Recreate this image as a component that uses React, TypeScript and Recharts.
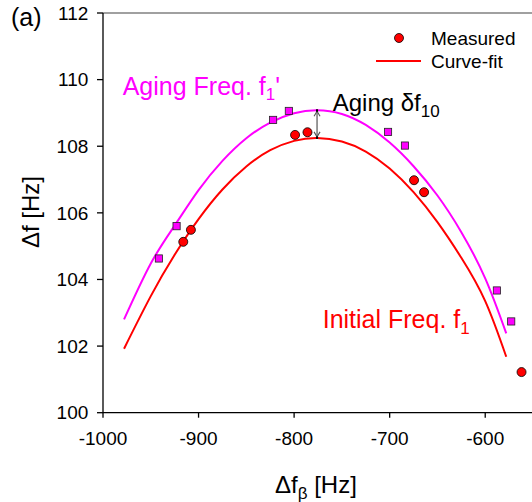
import React from 'react';
import { ComposedChart, Line, Scatter, XAxis, YAxis, ReferenceLine } from 'recharts';

// Measured initial frequency (red circles)
const initialMeasured = [
  { x: -916, y: 105.13 },
  { x: -908, y: 105.49 },
  { x: -799, y: 108.34 },
  { x: -786, y: 108.42 },
  { x: -674.5, y: 106.98 },
  { x: -664, y: 106.62 },
  { x: -562, y: 101.22 },
];

// Measured aging frequency (magenta squares)
const agingMeasured = [
  { x: -941.5, y: 104.63 },
  { x: -923, y: 105.6 },
  { x: -822, y: 108.79 },
  { x: -805.5, y: 109.06 },
  { x: -701.7, y: 108.43 },
  { x: -684, y: 108.02 },
  { x: -587.8, y: 103.67 },
  { x: -572.8, y: 102.74 },
];

// Curve-fit lines
const fitX = [-978, -950, -925, -900, -875, -850, -825, -800, -776, -750, -725, -700, -675, -650, -625, -600, -578];
const initialFitY = [101.92, 103.5, 104.74, 105.81, 106.7, 107.39, 107.88, 108.16, 108.25, 108.14, 107.84, 107.33, 106.62, 105.72, 104.65, 103.35, 101.68];
const agingFitY = [102.8, 104.48, 105.62, 106.68, 107.56, 108.24, 108.71, 108.99, 109.08, 108.97, 108.64, 108.11, 107.4, 106.52, 105.42, 104.03, 102.38];

const xTicks = [-1000, -900, -800, -700, -600];
const yTicks = [100, 102, 104, 106, 108, 110, 112];

const agingArrow = { x: -776, yLow: 108.25, yHigh: 109.08 };

const initialFit = fitX.map((x, i) => ({ x, y: initialFitY[i] }));
const agingFit = fitX.map((x, i) => ({ x, y: agingFitY[i] }));

const FONT = '"Liberation Sans", Arial, Helvetica, sans-serif';
const RED = '#FF0000';
const MAGENTA = '#FF00FF';

const CircleShape = (props: any) => {
  const { cx, cy } = props;
  return <circle cx={cx} cy={cy} r={4.5} fill={RED} stroke="#000" strokeWidth={0.8} />;
};

const SquareShape = (props: any) => {
  const { cx, cy } = props;
  return <rect x={cx - 3.6} y={cy - 3.6} width={7.2} height={7.2} fill={MAGENTA} stroke="#222" strokeWidth={0.8} />;
};

const ArrowShape = (props: any) => {
  const x = props.x1;
  const y1 = Math.min(props.y1, props.y2);
  const y2 = Math.max(props.y1, props.y2);
  return (
    <g>
      <line x1={x} y1={y1} x2={x} y2={y2} stroke="#555" strokeWidth={1.2} />
      <polyline points={`${x - 3},${y1 + 6} ${x},${y1 + 1} ${x + 3},${y1 + 6}`} fill="none" stroke="#555" strokeWidth={1.1} />
      <polyline points={`${x - 3},${y2 - 6} ${x},${y2 - 1} ${x + 3},${y2 - 6}`} fill="none" stroke="#555" strokeWidth={1.1} />
      <line x1={x} y1={y1 - 1} x2={x} y2={y1 + 1.5} stroke="#000" strokeWidth={2} />
      <line x1={x} y1={y2 - 1.5} x2={x} y2={y2 + 1} stroke="#000" strokeWidth={2} />
    </g>
  );
};

export default function App() {
  return (
    <div style={{ position: 'absolute', left: 0, top: 0, width: 532, height: 502, overflow: 'hidden', background: '#fff', fontFamily: FONT }}>
      <ComposedChart width={534} height={502} margin={{ top: 13, right: 1, bottom: 59.3, left: 0 }}>
        <XAxis
          type="number"
          dataKey="x"
          domain={[-1000, -550]}
          ticks={xTicks}
          allowDataOverflow
          tickSize={5}
          tickMargin={14}
          height={30}
          stroke="#000"
          tick={{ fill: '#000', fontSize: 19, fontFamily: FONT }}
          axisLine={{ stroke: '#000', strokeWidth: 1.3 }}
          tickLine={{ stroke: '#000', strokeWidth: 1.3 }}
        />
        <YAxis
          type="number"
          dataKey="y"
          domain={[100, 112]}
          ticks={yTicks}
          allowDataOverflow
          width={103}
          tickSize={6}
          tickMargin={8.7}
          stroke="#000"
          tick={{ fill: '#000', fontSize: 19, fontFamily: FONT }}
          axisLine={{ stroke: '#000', strokeWidth: 1.3 }}
          tickLine={{ stroke: '#000', strokeWidth: 1.3 }}
        />
        <ReferenceLine y={112} stroke="#808080" strokeWidth={1.5} ifOverflow="extendDomain" />
        <Line data={agingFit} dataKey="y" type="natural" stroke={MAGENTA} strokeWidth={2} dot={false} isAnimationActive={false} />
        <Line data={initialFit} dataKey="y" type="natural" stroke={RED} strokeWidth={2} dot={false} isAnimationActive={false} />
        <Scatter data={agingMeasured} dataKey="y" shape={SquareShape} isAnimationActive={false} />
        <Scatter data={initialMeasured} dataKey="y" shape={CircleShape} isAnimationActive={false} />
        <ReferenceLine
          segment={[{ x: agingArrow.x, y: agingArrow.yLow }, { x: agingArrow.x, y: agingArrow.yHigh }]}
          shape={ArrowShape}
        />
      </ComposedChart>
      <svg width={532} height={502} style={{ position: 'absolute', left: 0, top: 0, pointerEvents: 'none' }} fontFamily={FONT}>
        <text x={11} y={25.5} fontSize={25} fill="#000">(a)</text>
        <text x={122.7} y={94.6} fontSize={25} fill={MAGENTA}>
          Aging Freq. f<tspan fontSize={17} dy={5}>1</tspan><tspan dy={-5}>'</tspan>
        </text>
        <text x={332.7} y={111} fontSize={24} fill="#000">
          Aging δf<tspan fontSize={17} dy={6}>10</tspan>
        </text>
        <text x={322.7} y={327.7} fontSize={25} fill={RED}>
          Initial Freq. f<tspan fontSize={17} dy={6}>1</tspan>
        </text>
        <circle cx={399} cy={38} r={4.5} fill={RED} stroke="#000" strokeWidth={0.8} />
        <text x={431} y={44.7} fontSize={19} fill="#000">Measured</text>
        <line x1={376} y1={61} x2={421} y2={61} stroke={RED} strokeWidth={2} />
        <text x={431} y={67.7} fontSize={19} fill="#000">Curve-fit</text>
        <text x={275} y={493} fontSize={24} fill="#000">
          Δf<tspan fontSize={17} dy={6}>β</tspan><tspan dy={-6}> [Hz]</tspan>
        </text>
        <text x={0} y={0} fontSize={24} fill="#000" textAnchor="middle" transform="translate(38.5 212) rotate(-90)">Δf [Hz]</text>
      </svg>
    </div>
  );
}
